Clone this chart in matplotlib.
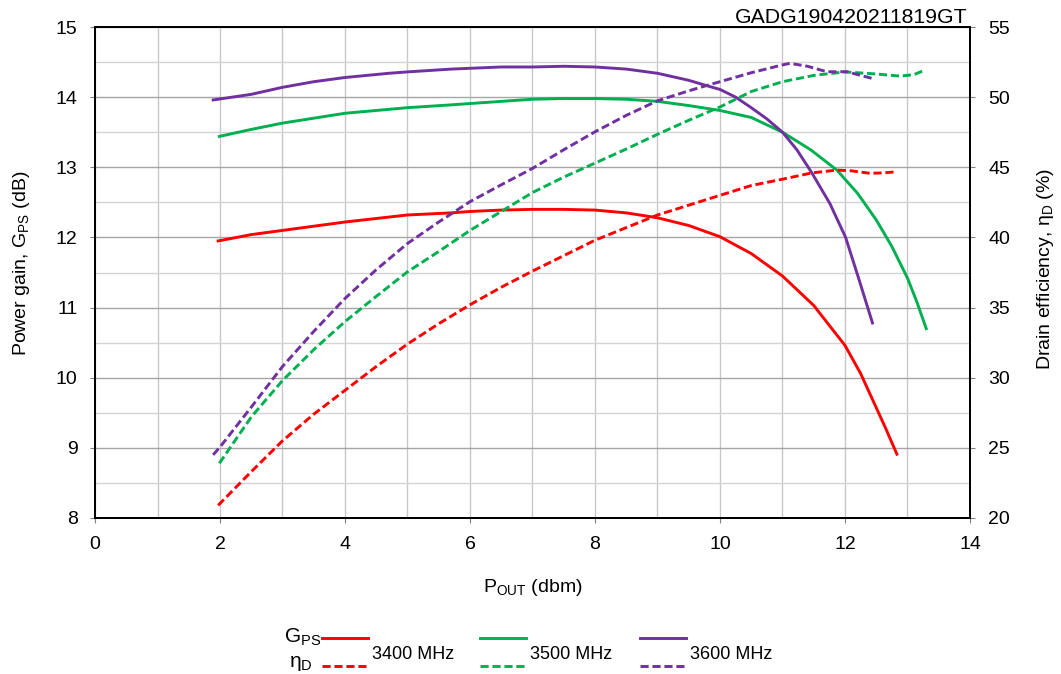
import numpy as np
import matplotlib.pyplot as plt
from matplotlib.lines import Line2D
from matplotlib.ticker import MultipleLocator

plt.rcParams['font.family'] = ['Liberation Sans', 'DejaVu Sans']
plt.rcParams['mathtext.fontset'] = 'custom'
plt.rcParams['mathtext.rm'] = 'Liberation Sans'
plt.rcParams['mathtext.it'] = 'Liberation Sans'

# ================================
# Data
# ================================
# Power gain G_PS (dB) vs P_OUT
pout_g3400 = [1.97, 2.5, 3.0, 3.5, 4.0, 4.5, 5.0, 5.7, 6.0, 6.5, 7.0, 7.5, 8.0, 8.5,
              9.0, 9.5, 10.0, 10.5, 11.0, 11.5, 12.0, 12.25, 12.45, 12.65, 12.83]
gps_3400 = [11.95, 12.04, 12.10, 12.16, 12.22, 12.27, 12.32, 12.35, 12.37, 12.39, 12.40,
            12.40, 12.39, 12.35, 12.28, 12.17, 12.01, 11.77, 11.45, 11.03, 10.46, 10.06,
            9.67, 9.28, 8.91]

pout_g3500 = [1.99, 2.5, 3.0, 3.5, 4.0, 4.5, 5.0, 5.7, 6.5, 7.0, 7.5, 8.0, 8.5, 9.0,
              9.5, 10.0, 10.5, 11.0, 11.45, 11.87, 12.2, 12.5, 12.75, 13.0, 13.15, 13.3]
gps_3500 = [13.44, 13.54, 13.63, 13.70, 13.77, 13.81, 13.85, 13.89, 13.94, 13.97, 13.98,
            13.98, 13.97, 13.94, 13.88, 13.81, 13.71, 13.50, 13.25, 12.96, 12.63, 12.25,
            11.87, 11.42, 11.08, 10.70]

pout_g3600 = [1.89, 2.5, 3.0, 3.5, 4.0, 4.7, 5.0, 5.7, 6.5, 7.0, 7.5, 8.0, 8.5, 9.0,
              9.5, 9.84, 10.0, 10.25, 10.5, 10.75, 11.0, 11.23, 11.47, 11.76, 12.01,
              12.21, 12.44]
gps_3600 = [13.96, 14.04, 14.14, 14.22, 14.28, 14.34, 14.36, 14.40, 14.43, 14.43, 14.44,
            14.43, 14.40, 14.34, 14.24, 14.15, 14.11, 14.0, 13.85, 13.69, 13.50, 13.25,
            12.92, 12.48, 12.00, 11.44, 10.78]

# Drain efficiency eta_D (%) vs P_OUT
pout_e3400 = [1.97, 2.5, 3.0, 3.5, 4.0, 4.5, 5.0, 5.5, 6.0, 6.5, 7.0, 7.5, 8.0, 8.5,
              9.0, 9.5, 10.0, 10.5, 11.0, 11.47, 11.87, 12.1, 12.4, 12.6, 12.83]
eff_3400 = [20.9, 23.3, 25.5, 27.4, 29.1, 30.8, 32.4, 33.85, 35.2, 36.45, 37.6, 38.7, 39.8,
            40.7, 41.6, 42.3, 43.0, 43.7, 44.15, 44.6, 44.8, 44.75, 44.57, 44.6, 44.68]

pout_e3500 = [1.99, 2.5, 3.0, 3.5, 4.0, 4.5, 5.0, 5.5, 6.0, 6.5, 7.0, 7.5, 8.0, 8.5,
              9.0, 9.5, 10.0, 10.5, 11.0, 11.5, 12.0, 12.5, 12.88, 13.1, 13.28]
eff_3500 = [23.9, 27.2, 29.8, 32.0, 34.0, 35.8, 37.55, 39.0, 40.5, 41.85, 43.2, 44.3, 45.3,
            46.3, 47.35, 48.35, 49.3, 50.4, 51.1, 51.55, 51.8, 51.65, 51.5, 51.6, 51.93]

pout_e3600 = [1.89, 2.0, 2.5, 3.0, 3.5, 4.0, 4.5, 5.0, 5.5, 6.0, 6.5, 7.0, 7.5, 8.0, 8.5,
              9.0, 9.5, 9.81, 10.0, 10.5, 11.0, 11.12, 11.4, 11.71, 12.03, 12.25, 12.43]
eff_3600 = [24.5, 25.06, 27.9, 30.8, 33.3, 35.65, 37.7, 39.57, 41.1, 42.55, 43.75, 44.92,
            46.25, 47.53, 48.7, 49.74, 50.45, 50.86, 51.1, 51.74, 52.3, 52.41, 52.2, 51.81,
            51.81, 51.55, 51.34]

freq_labels = ["3400 MHz", "3500 MHz", "3600 MHz"]
colors = ['#FF0000', '#00B050', '#7030A0']

# ================================
# Plot
# ================================
W = 1061.0
H = 674.0
fig = plt.figure(figsize=(W / 100, H / 100), dpi=100)
ax = fig.add_axes([95 / W, 1 - 518 / H, 875 / W, 491 / H])
ax2 = ax.twinx()


def fx(px):
    return px / W


def fy(py):
    return 1 - py / H


lw = 2.1
dash = (0, (2.8, 1.3))

ax.plot(pout_g3400, gps_3400, color=colors[0], lw=lw)
ax.plot(pout_g3500, gps_3500, color=colors[1], lw=lw)
ax.plot(pout_g3600, gps_3600, color=colors[2], lw=lw)

ax2.plot(pout_e3400, eff_3400, color=colors[0], lw=lw, linestyle=dash)
ax2.plot(pout_e3500, eff_3500, color=colors[1], lw=lw, linestyle=dash)
ax2.plot(pout_e3600, eff_3600, color=colors[2], lw=lw, linestyle=dash)

ax.set_xlim(0, 14)
ax.set_ylim(8, 15)
ax2.set_ylim(20, 55)

ax.xaxis.set_major_locator(MultipleLocator(2))
ax.xaxis.set_minor_locator(MultipleLocator(1))
ax.yaxis.set_major_locator(MultipleLocator(1))
ax.yaxis.set_minor_locator(MultipleLocator(0.5))
ax2.yaxis.set_major_locator(MultipleLocator(5))

# Grid lines
ax.grid(True, axis='x', which='both', color='#c8c8c8', lw=1.0)
ax.grid(True, axis='y', which='major', color='#a6a6a6', lw=1.0)
ax.grid(True, axis='y', which='minor', color='#d4d4d4', lw=1.0)
ax.set_axisbelow(True)

for a in (ax, ax2):
    for s in a.spines.values():
        s.set_color('black')
        s.set_linewidth(1.4)

ax.tick_params(axis='y', which='major', labelsize=14, length=3.6, color='#808080', pad=9)
ax.tick_params(axis='x', which='major', labelsize=14, length=3.6, color='#808080', pad=9.5)
ax.tick_params(axis='both', which='minor', length=0)
ax2.tick_params(axis='y', labelsize=14, length=3.6, color='#808080', pad=9.5)

# Axis titles
fig.text(fx(532.5), fy(592), r"P$_\mathregular{OUT}$ (dbm)", fontsize=14,
         ha='center', va='baseline')
fig.text(fx(22), fy(263), r"Power gain, G$_\mathregular{PS}$ (dB)", fontsize=14,
         ha='center', va='center', rotation=90)
fig.text(fx(1045), fy(269), r"Drain efficiency, η$_\mathregular{D}$ (%)", fontsize=14,
         ha='center', va='center', rotation=90)

fig.text(fx(968), fy(22.7), "GADG190420211819GT", fontsize=15.3,
         ha='right', va='baseline')

# ================================
# Legend (drawn by hand, in pixel positions)
# ================================
fig.text(fx(321), fy(643), r"G$_\mathregular{PS}$", fontsize=15, ha='right', va='baseline')
fig.text(fx(313), fy(667), r"η$_\mathregular{D}$", fontsize=15, ha='right', va='baseline')
starts = [322, 480, 640]
for c, lab, x0 in zip(colors, freq_labels, starts):
    fig.add_artist(Line2D([fx(x0), fx(x0 + 46)], [fy(638), fy(638)],
                          color=c, lw=lw, transform=fig.transFigure))
    fig.add_artist(Line2D([fx(x0), fx(x0 + 46)], [fy(666), fy(666)],
                          color=c, lw=lw, linestyle=dash, transform=fig.transFigure))
    fig.text(fx(x0 + 50), fy(659), lab, fontsize=13, ha='left', va='baseline')

fig.savefig("out.png", dpi=100)
